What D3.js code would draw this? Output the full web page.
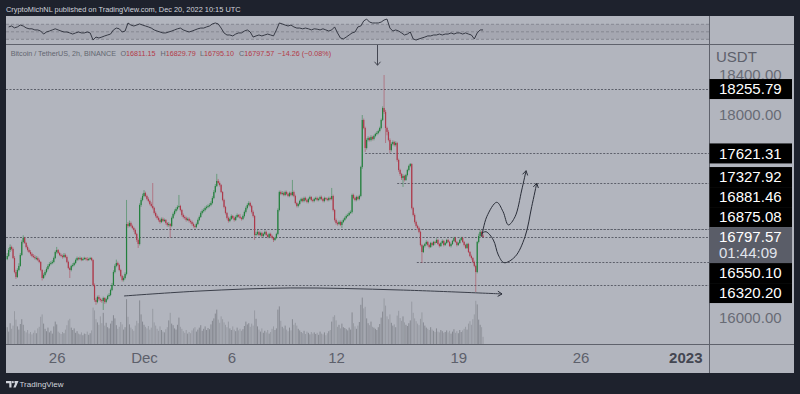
<!DOCTYPE html>
<html>
<head>
<meta charset="utf-8">
<script src="https://cdn.jsdelivr.net/npm/d3@7"></script>
<style>
  html, body { margin: 0; padding: 0; background: #1e222d; }
  svg { display: block; font-family: "Liberation Sans", Arial, Helvetica, sans-serif; }
</style>
</head>
<body>
<svg id="chart" width="800" height="394"></svg>
<script>
// BTC/USDT 2h candles, last bar opens Dec 20 2022 10:00 UTC
const lastBarTime = Date.UTC(2022, 11, 20, 10);
const barMs = 2 * 3600 * 1000;
const firstOpen = 16580;

const closes = [
  16611,16670,16699,16680,16591,16453,16404,16473,16513,16621,
  16749,16789,16739,16699,16670,16650,16631,16611,16601,16591,
  16591,16571,16552,16473,16394,16424,16453,16483,16513,16532,
  16542,16552,16591,16650,16670,16640,16621,16611,16601,16621,
  16601,16552,16493,16473,16513,16522,16542,16571,16591,16581,
  16591,16571,16581,16591,16581,16571,16581,16591,16571,
  16325,16177,16158,16207,16187,16177,16167,16197,16158,16187,16217,16227,
  16276,16325,16453,16513,16542,16522,16473,16414,16374,16394,
  16434,16926,16907,16936,16907,16887,16867,16828,16769,16729,
  17113,17163,17202,17232,17202,17173,17153,17123,17104,17084,
  17035,17005,16986,16966,16946,16976,16956,16966,16936,16917,
  16926,16907,16986,17025,17054,17074,17094,17104,17064,17015,
  16995,16986,16966,16976,16956,16946,16926,16907,16897,16926,
  16966,16995,17035,17054,17064,17084,17094,17104,17113,17133,
  17182,17241,17300,17350,17330,17310,17241,17163,17094,17035,
  16986,16956,16976,17005,16986,16966,16995,17015,17000,16986,16976,
  17005,17045,17084,17113,17133,17104,17045,17005,16818,16828,
  16848,16818,16838,16808,16828,16848,16818,16798,16828,16808,
  16789,16769,16789,16828,17064,17241,17222,17232,17212,17241,
  17222,17202,17232,17212,17241,17202,17133,17104,17123,17153,
  17173,17153,17182,17163,17143,17173,17192,17163,17153,17173,
  17182,17163,17173,17192,17173,17153,17182,17173,17163,17182,
  17173,17202,17064,16966,16936,16926,16946,16917,16946,16966,
  16986,17005,17015,17035,17045,17212,17182,17163,17192,17173,
  17202,17488,17951,17872,17675,17754,17774,17754,17783,17764,
  17793,17813,17823,17842,17872,17951,18069,18030,17872,17833,
  17754,17655,17714,17734,17705,17724,17557,17458,17419,17379,
  17399,17360,17409,17458,17498,17517,17084,17015,16946,16907,
  16887,16848,16719,16650,16709,16729,16749,16719,16699,16739,
  16719,16749,16740,16769,16729,16709,16739,16759,16719,16739,16769,
  16749,16709,16729,16759,16789,16749,16719,16739,16769,16789,
  16749,16719,16690,16729,16650,16611,16591,16552,16513,16453,
  16749,16808,16848,16811.83,16797.57
];

const highs = [
  16640,16690,16725,16712,16695,16610,16475,16490,16540,16640,
  16765,16815,16800,16750,16715,16685,16668,16645,16630,16620,
  16610,16605,16585,16560,16480,16440,16470,16500,16530,16550,
  16560,16570,16605,16665,16700,16680,16652,16635,16625,16640,
  16635,16615,16565,16505,16525,16540,16555,16585,16605,16600,
  16605,16600,16595,16603,16598,16600,16593,16602,16600,
  16580,16340,16195,16220,16225,16200,16190,16210,16205,16200,16230,16245,
  16290,16345,16470,16530,16575,16555,16535,16485,16425,16410,
  16450,17163,16945,16960,16950,16920,16900,16880,16840,16785,
  17130,17185,17225,17260,17245,17215,17190,17165,17140,17330,
  17095,17050,17020,17000,16980,16990,16990,16980,16975,16945,
  16945,16935,17000,17040,17070,17090,17110,17212,17115,17075,
  17030,17010,17000,16990,16990,16970,16960,16940,16920,16940,
  16980,17010,17050,17070,17080,17100,17110,17120,17130,17150,
  17200,17260,17320,17420,17370,17345,17320,17250,17175,17105,
  17045,17000,16990,17020,17015,17000,17010,17030,17022,17025,16995,
  17020,17060,17100,17130,17150,17145,17115,17060,17015,16850,
  16865,16860,16850,16850,16840,16862,16860,16830,16840,16840,
  16820,16800,16800,16840,17080,17255,17255,17250,17245,17255,
  17255,17235,17245,17245,17360,17255,17215,17145,17135,17165,
  17185,17185,17195,17195,17175,17185,17205,17200,17175,17185,
  17195,17195,17185,17205,17205,17180,17195,17190,17185,17195,
  17195,17281,17215,17075,16980,16950,16960,16960,16960,16980,
  17000,17020,17030,17050,17060,17225,17225,17195,17205,17205,
  17215,17500,18000,17965,17885,17770,17790,17785,17800,17795,
  17805,17825,17840,17855,17885,17965,18085,18394,18050,17885,
  17850,17770,17730,17750,17745,17740,17735,17570,17470,17430,
  17415,17410,17420,17470,17510,17527,17525,17095,17030,16960,
  16920,16900,16860,16730,16720,16740,16765,16760,16730,16750,
  16750,16760,16758,16785,16780,16740,16750,16775,16770,16750,16780,
  16780,16760,16740,16770,16800,16800,16760,16750,16780,16800,
  16800,16760,16730,16740,16740,16660,16625,16600,16565,16525,
  16760,16830,16870,16860,16829.79
];

const lows = [
  16570,16600,16650,16665,16580,16440,16385,16395,16460,16505,
  16610,16735,16730,16685,16655,16640,16615,16598,16590,16575,
  16570,16560,16540,16460,16370,16385,16410,16440,16470,16500,
  16520,16530,16540,16580,16635,16630,16610,16598,16585,16590,
  16590,16540,16480,16394,16460,16500,16510,16530,16560,16568,
  16570,16560,16562,16572,16568,16560,16563,16572,16560,
  16310,16160,16130,16145,16170,16160,16150,16079,16140,16145,16175,16205,
  16215,16265,16315,16440,16500,16510,16460,16400,16360,16360,
  16380,16420,16890,16895,16895,16875,16850,16815,16750,16690,
  16715,17095,17150,17190,17190,17160,17140,17110,17090,17070,
  17020,16990,16970,16950,16930,16935,16945,16945,16920,16900,
  16900,16789,16895,16975,17010,17040,17060,17085,17050,17000,
  16980,16970,16950,16955,16940,16930,16910,16890,16880,16885,
  16915,16955,16985,17020,17040,17050,17070,17080,17090,17100,
  17120,17170,17230,17290,17315,17295,17230,17150,17080,17020,
  16970,16940,16945,16965,16975,16950,16955,16985,16990,16975,16960,
  16965,16990,17030,17070,17100,17090,17030,16990,16769,16805,
  16815,16805,16805,16795,16795,16815,16805,16785,16785,16795,
  16775,16749,16760,16780,16815,17050,17210,17210,17200,17200,
  17210,17190,17190,17200,17200,17190,17120,17090,17090,17110,
  17140,17140,17140,17150,17130,17130,17160,17150,17140,17140,
  17160,17150,17150,17160,17160,17140,17140,17160,17150,17150,
  17160,17160,17050,16950,16920,16910,16915,16905,16887,16935,
  16955,16975,16995,17005,17025,17030,17170,17150,17150,17160,
  17160,17190,17470,17860,17635,17660,17740,17740,17740,17750,
  17750,17780,17800,17810,17830,17860,17940,18010,17724,17800,
  17740,17626,17640,17700,17690,17690,17540,17440,17400,17360,
  17291,17345,17350,17395,17445,17485,17070,17000,16930,16890,
  16870,16835,16705,16542,16640,16695,16715,16705,16685,16690,
  16705,16710,16725,16740,16720,16695,16700,16730,16705,16710,16730,
  16740,16700,16695,16720,16750,16740,16705,16710,16730,16760,
  16740,16705,16680,16680,16640,16600,16575,16540,16500,16256,
  16440,16735,16795,16800,16795.10
];

const volumes = [
  4200,3100,5200,3800,4600,8200,6100,4400,3600,5000,
  6200,4800,3300,2900,3500,2600,3000,2400,2800,3400,
  2700,3900,4300,6800,7400,5100,3800,3200,4100,2900,
  3300,2600,4400,5600,4900,3100,2800,2500,3000,2700,
  3600,4700,5900,6300,4100,3500,3900,2800,3200,2600,
  2400,2900,2200,2600,2500,3100,2300,2700,3400,
  9100,8400,6200,5400,4800,6900,5200,7800,4600,5300,4200,3900,
  5100,5800,7200,6400,4700,3800,4300,5500,4900,3600,
  4200,11200,6800,4900,4100,3700,3300,4600,5800,5200,
  10900,7400,5600,4800,4300,3900,4500,3600,4100,8800,
  5400,4600,3800,3300,4400,3500,3100,2900,3700,4200,
  5900,7800,5100,4700,3900,3600,4800,6600,4300,3800,
  3200,2800,3500,2600,3000,2700,3400,3900,4200,3100,
  3600,4100,4700,3300,3800,4400,3500,4000,3700,4900,
  5800,6400,7600,8600,6100,5300,6900,6200,5400,4800,
  4200,5600,3900,3500,4400,3600,3200,4100,3400,3800,3300,
  3700,4500,5600,4900,5200,4300,5100,4600,8400,6300,
  4400,3600,3100,3900,2800,3300,2900,3500,2600,3000,
  3800,4400,3500,3900,8600,9400,5800,4300,3900,4600,
  3600,3200,4100,3400,6200,4800,5300,4600,3800,3400,
  3000,2700,3300,2500,3100,2800,2400,3000,2600,2900,
  2500,2800,2300,3100,2600,2400,2900,2200,2700,3200,
  3500,5600,6800,7200,5900,4300,4800,3900,5100,4200,
  4000,3700,3400,4100,3600,7900,5200,4400,3800,4600,
  5500,9800,11600,8900,9300,6400,5200,4700,5600,4300,
  4100,3800,3500,4200,5000,6600,8100,11400,9600,6900,
  6200,7400,5300,4600,4900,4200,7100,8300,6500,5800,
  6900,5400,4800,4500,5200,5900,10600,7800,6400,5700,
  5100,4700,6300,7900,5400,4600,4100,3800,3500,4200,
  3600,3300,3000,3900,3100,2900,3500,3200,2800,3000,3400,
  2900,3300,2600,3100,3700,2800,3200,2700,3500,3000,
  3400,3800,4300,3600,5100,5700,4800,6200,7400,10800,
  9900,6100,4800,4200,1800
];

// RSI, one reading every second bar (bars 1, 3, 5 ...)
const rsiValues = [
  63,65.5,60.5,63,68,65.5,60.5,58,58,55,
  55,52,44,49.5,52,55,58,55,52,49.5,
  49.5,47,44,47,49.5,47,47,49.5,47,28,
  36,33.5,36,39,41.5,44,55,60,58,49.5,
  52,73.5,68,65.5,68,71,68,65.5,63,60,
  55,52,49.5,47,47,49.5,52,55,58,60,
  55,52,49.5,52,55,58,60,60,63,65.5,
  71,73.5,71,60,47,41.5,41.5,39,44,47,
  47,52,55,49.5,36,39,41.5,39,41.5,44,
  41.5,39,55,73.5,71,68,65.5,68,63,60,
  60,58,60,58,55,58,57,55,58,55,52,
  55,63,47,33.5,31,36,41.5,47,49.5,63,
  65.5,79,84,76,73.5,73.5,73.5,76,81.5,84,
  60,52,55,52,47,41.5,44,49.5,31,28,
  31,33.5,36,39,39,41.5,41.5,44,41.5,44,
  44,47,44,47,47,44,47,44,41.5,31,
  47,55,55
];

// only the scale prices that are not hidden behind tags
const priceTicks = [16000, 18000, 18400];
const dateTicks = [
  Date.UTC(2022, 10, 26), Date.UTC(2022, 11, 1), Date.UTC(2022, 11, 6),
  Date.UTC(2022, 11, 12), Date.UTC(2022, 11, 19), Date.UTC(2022, 11, 26),
  Date.UTC(2023, 0, 1)
];
const dateLabels = ['26', 'Dec', '6', '12', '19', '26', '2023'];

// horizontal rays drawn by the author
const levelPrices = [18255.79, 17621.31, 17327.92, 16881.46, 16875.08, 16550.10, 16320.20];
const levelStarts = [
  '2022-11-22T00:00Z', '2022-12-13T16:00Z', '2022-12-15T12:00Z', '2022-12-16T17:00Z',
  '2022-12-01T11:00Z', '2022-12-16T15:00Z', '2022-11-23T11:00Z'
];
const countdown = '01:44:09';

// hand-drawn paths: [hours from last bar, price]
const upPath = [[-1.8,16801],[5.1,16998],[18.8,17140],[27.5,17048],[34.8,16917],[44,16998],[53.2,17261],[59.1,17451]];
const downPath = [[-1.8,16835],[4.1,16850],[14.2,16768],[21,16621],[28.9,16545],[44,16604],[57.7,16801],[66.9,17097],[73.8,17327]];
const arcPath = [[-493.5,16217],[-389,16266],[-265,16296],[-114,16276],[26.1,16237]];
const markerHour = -145.3;
const markerPrice = 18490;

// --- layout ---
const L = 6, R = 709, AXR = 794, TOP = 16, RSIB = 44, MAINB = 344, BOT = 373;
const upColor = '#23803d', downColor = '#ad3a4b';
const lineGray = '#5d606b';

const svg = d3.select('#chart');

const x = d3.scaleUtc()
  .domain([new Date(Date.UTC(2022, 11, 1)), new Date(Date.UTC(2023, 0, 1))])
  .range([144, 685.3]);
const y = d3.scaleLinear().domain([16000, 18000]).range([318, 115]);
const rsiY = d3.scaleLinear().domain([30, 70]).range([39.3, 24.3]);
const volY = d3.scaleLinear().domain([0, 12000]).range([MAINB, MAINB - 48]);
const hx = h => x(new Date(lastBarTime + h * 3600e3));

const bars = closes.map((c, i) => {
  const o = i ? closes[i - 1] : firstOpen;
  return {
    t: new Date(lastBarTime - (closes.length - 1 - i) * barMs),
    o, c,
    h: Math.max(highs[i], o, c),
    l: Math.min(lows[i], o, c),
    v: volumes[i]
  };
});

// backgrounds
svg.append('rect').attr('width', 800).attr('height', 394).attr('fill', '#1e222d');
svg.append('rect').attr('x', L).attr('y', TOP).attr('width', AXR - L).attr('height', BOT - TOP).attr('fill', '#b2b5be');

const defs = svg.append('defs');
defs.append('clipPath').attr('id', 'mainClip').append('rect')
  .attr('x', L).attr('y', RSIB).attr('width', R - L).attr('height', MAINB - RSIB);
defs.append('clipPath').attr('id', 'rsiClip').append('rect')
  .attr('x', L).attr('y', TOP).attr('width', R - L).attr('height', RSIB - TOP);

// --- RSI pane ---
const rsiG = svg.append('g').attr('clip-path', 'url(#rsiClip)');
rsiG.append('rect')
  .attr('x', L).attr('width', R - L)
  .attr('y', rsiY(70)).attr('height', rsiY(30) - rsiY(70))
  .attr('fill', '#7e818c').attr('fill-opacity', 0.25);
[70, 50, 30].forEach(v => {
  rsiG.append('line')
    .attr('x1', L).attr('x2', R).attr('y1', rsiY(v)).attr('y2', rsiY(v))
    .attr('stroke', '#7d808a').attr('stroke-width', 0.8).attr('stroke-dasharray', '3,2');
});
rsiG.append('path')
  .datum(rsiValues)
  .attr('fill', 'none')
  .attr('stroke', '#2a2e39')
  .attr('stroke-width', 0.9)
  .attr('d', d3.line().x((d, m) => x(bars[2 * m + 1].t)).y(d => rsiY(d)));

// --- main pane ---
const main = svg.append('g').attr('clip-path', 'url(#mainClip)');

main.append('g').selectAll('rect')
  .data(bars)
  .join('rect')
  .attr('x', d => x(d.t) - 0.5)
  .attr('width', 1)
  .attr('y', d => volY(d.v))
  .attr('height', d => MAINB - volY(d.v))
  .attr('fill', d => d.c >= d.o ? '#868991' : '#979aa2');

// level rays
main.append('g').selectAll('line')
  .data(levelPrices)
  .join('line')
  .attr('x1', (d, i) => Math.max(L, x(new Date(levelStarts[i]))))
  .attr('x2', R)
  .attr('y1', d => Math.round(y(d)) + 0.5)
  .attr('y2', d => Math.round(y(d)) + 0.5)
  .attr('stroke', lineGray).attr('stroke-width', 1).attr('stroke-dasharray', '2,1.5');

// current price line
const lastPrice = closes[closes.length - 1];
main.append('line')
  .attr('x1', L).attr('x2', R)
  .attr('y1', Math.round(y(lastPrice)) + 0.5).attr('y2', Math.round(y(lastPrice)) + 0.5)
  .attr('stroke', lineGray).attr('stroke-width', 1).attr('stroke-dasharray', '2,1.5');

// candles
const candles = main.append('g').selectAll('g')
  .data(bars)
  .join('g');
candles.append('line')
  .attr('x1', d => x(d.t)).attr('x2', d => x(d.t))
  .attr('y1', d => y(d.h)).attr('y2', d => y(d.l))
  .attr('stroke', d => d.c >= d.o ? upColor : downColor)
  .attr('stroke-opacity', 0.55)
  .attr('stroke-width', 0.9);
candles.append('rect')
  .attr('x', d => x(d.t) - 0.6)
  .attr('width', 1.2)
  .attr('y', d => y(Math.max(d.o, d.c)))
  .attr('height', d => Math.max(1, Math.abs(y(d.o) - y(d.c))))
  .attr('fill', d => d.c >= d.o ? upColor : downColor);

// drawings
const drawG = main.append('g').attr('fill', 'none').attr('stroke', '#2a2e39').attr('stroke-width', 1);
const curve = d3.line().x(d => hx(d[0])).y(d => y(d[1])).curve(d3.curveCatmullRom.alpha(0.5));

function arrowHead(g, pts, size) {
  const a = pts[pts.length - 1], b = pts[pts.length - 2];
  const tip = [hx(a[0]), y(a[1])], from = [hx(b[0]), y(b[1])];
  const ang = Math.atan2(tip[1] - from[1], tip[0] - from[0]);
  const p1 = [tip[0] - size * Math.cos(ang - 0.55), tip[1] - size * Math.sin(ang - 0.55)];
  const p2 = [tip[0] - size * Math.cos(ang + 0.55), tip[1] - size * Math.sin(ang + 0.55)];
  g.append('path').attr('d', `M${p1}L${tip}L${p2}`);
}
[upPath, downPath].forEach(p => {
  drawG.append('path').attr('d', curve(p));
  arrowHead(drawG, p, 5);
});
drawG.append('path').attr('d', curve(arcPath)).attr('stroke', '#3b3f4a');
arrowHead(drawG, arcPath, 5);

// down marker arrow above the top
const mx = Math.round(hx(markerHour)) + 0.5;
const my = y(markerPrice);
const markG = svg.append('g').attr('stroke', '#434651').attr('fill', 'none').attr('stroke-width', 1);
markG.append('line').attr('x1', mx).attr('x2', mx).attr('y1', RSIB).attr('y2', my);
markG.append('path').attr('d', `M${mx - 3},${my - 3.5}L${mx},${my}L${mx + 3},${my - 3.5}`);

// --- separators ---
const sep = svg.append('g').attr('stroke', '#5f626c').attr('stroke-width', 1);
sep.append('line').attr('x1', L).attr('x2', AXR).attr('y1', RSIB + 0.5).attr('y2', RSIB + 0.5);
sep.append('line').attr('x1', L).attr('x2', AXR).attr('y1', MAINB + 0.5).attr('y2', MAINB + 0.5);
sep.append('line').attr('x1', R + 0.5).attr('x2', R + 0.5).attr('y1', TOP).attr('y2', BOT);

// --- price axis ---
const yAxis = svg.append('g')
  .attr('transform', `translate(${R},0)`)
  .call(d3.axisRight(y).tickValues(priceTicks).tickSize(0).tickPadding(10).tickFormat(d3.format('.2f')));
yAxis.select('.domain').remove();
yAxis.selectAll('text').attr('fill', '#686b75').attr('font-size', 15).attr('font-family', null);

svg.append('text')
  .attr('x', 716).attr('y', 61.5)
  .attr('fill', '#5d606b').attr('font-size', 15)
  .text('USDT');

// level price tags, pushed apart around the live price tag
const tagG = svg.append('g');
const curTop = y(lastPrice) - 10, curBot = curTop + 36;
const sortedLevels = levelPrices.slice().sort((a, b) => b - a);
let limit = curTop;
sortedLevels.filter(p => p > lastPrice).reverse().forEach(p => {
  const cy = Math.min(y(p), limit - 10);
  drawTag(p, cy);
  limit = cy - 10;
});
limit = curBot;
sortedLevels.filter(p => p < lastPrice).forEach(p => {
  const cy = Math.max(y(p), limit + 10);
  drawTag(p, cy);
  limit = cy + 10;
});
function drawTag(p, cy) {
  tagG.append('rect').attr('x', R + 0.5).attr('y', cy - 10).attr('width', 82.5).attr('height', 20).attr('fill', '#000');
  tagG.append('text').attr('x', 719).attr('y', cy).attr('dy', '0.36em')
    .attr('fill', '#fff').attr('font-size', 15).text(d3.format('.2f')(p));
}
tagG.append('rect').attr('x', R + 0.5).attr('y', curTop).attr('width', 82.5).attr('height', 36).attr('fill', '#5a5d68');
tagG.append('text').attr('x', 719).attr('y', y(lastPrice)).attr('dy', '0.36em')
  .attr('fill', '#fff').attr('font-size', 15).text(d3.format('.2f')(lastPrice));
tagG.append('text').attr('x', 719).attr('y', y(lastPrice) + 16).attr('dy', '0.36em')
  .attr('fill', '#e0e3eb').attr('font-size', 15).text(countdown);

// --- time axis ---
const xAxis = svg.append('g')
  .attr('transform', `translate(0,${MAINB})`)
  .call(d3.axisBottom(x).tickValues(dateTicks.map(d => new Date(d))).tickSize(0).tickPadding(8)
    .tickFormat((d, i) => dateLabels[i]));
xAxis.select('.domain').remove();
xAxis.selectAll('text')
  .attr('fill', '#5d606b').attr('font-size', 15).attr('font-family', null)
  .attr('font-weight', (d, i) => i === dateLabels.length - 1 ? 'bold' : null)
  .filter((d, i) => i === dateLabels.length - 1).attr('fill', '#434651');

// --- header & legend ---
svg.append('text')
  .attr('x', 6).attr('y', 12.3)
  .attr('fill', '#d1d4dc').attr('font-size', 7.4)
  .text('CryptoMichNL published on TradingView.com, Dec 20, 2022 10:15 UTC');

const legend = svg.append('text').attr('y', 56.3).attr('font-size', 7.2);
const legendGray = '#62656f', legendRed = '#b23a48';
legend.append('tspan').attr('x', 10.7).attr('fill', legendGray).text('Bitcoin / TetherUS, 2h, BINANCE');
[['O', '16811.15', 120.5], ['H', '16829.79', 160.5], ['L', '16795.10', 200], ['C', '16797.57', 239]]
  .forEach(([k, v, px]) => {
    legend.append('tspan').attr('x', px).attr('fill', legendGray).text(k);
    legend.append('tspan').attr('fill', legendRed).text(v);
  });
legend.append('tspan').attr('x', 277.5).attr('fill', legendRed).text('\u221214.26 (\u22120.08%)');

// --- footer logo ---
const logo = svg.append('g').attr('fill', '#d1d4dc');
logo.append('path').attr('d', 'M6,381h5.5v6.5h-2.2v-4.3h-3.3z');
logo.append('circle').attr('cx', 12.8).attr('cy', 382.2).attr('r', 1.1);
logo.append('path').attr('d', 'M14.5,381h4l-2.8,6.5h-2.4l1.9,-4.3h-0.7z');
svg.append('text').attr('x', 19.5).attr('y', 387.2).attr('fill', '#d1d4dc').attr('font-size', 8).text('TradingView');
</script>
</body>
</html>
